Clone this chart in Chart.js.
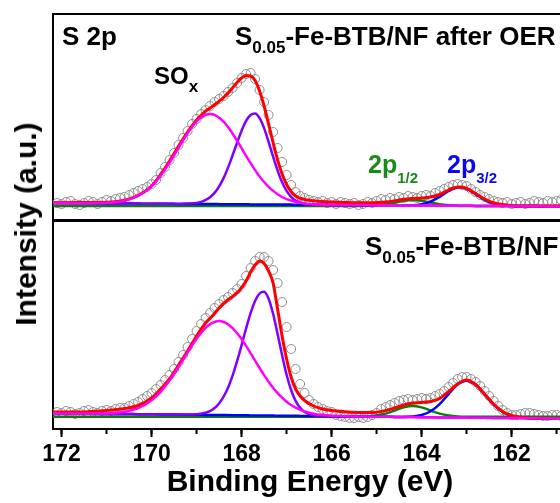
<!DOCTYPE html>
<html><head><meta charset="utf-8">
<script src="https://cdn.jsdelivr.net/npm/chart.js@4.4.1/dist/chart.umd.min.js"></script>
<style>
html,body{margin:0;padding:0;background:#fff;overflow:hidden;width:560px;height:503px;}
#wrap{position:relative;width:560px;height:503px;overflow:hidden;background:#fff;}
canvas{position:absolute;left:0;top:0;}
.t{position:absolute;font-family:'Liberation Sans',Arial,sans-serif;font-weight:bold;line-height:1;white-space:nowrap;color:#000;}
.s{position:relative;}
</style></head>
<body><div id="wrap">
<canvas id="cTop" width="580" height="503"></canvas>
<canvas id="cBot" width="580" height="503"></canvas>
<div class="t" style="left:62px;top:23px;font-size:26px">S 2p</div>
<div class="t" style="left:235px;top:23px;font-size:26px">S<span class="s" style="font-size:17px;top:8px">0.05</span>-Fe-BTB/NF after OER</div>
<div class="t" style="left:154px;top:64px;font-size:24px">SO<span class="s" style="font-size:17px;top:8px">x</span></div>
<div class="t" style="left:368px;top:152px;font-size:25px;color:#1a8a1a">2p<span class="s" style="font-size:15px;top:10px">1/2</span></div>
<div class="t" style="left:447px;top:152px;font-size:25px;color:#0a0aee">2p<span class="s" style="font-size:15px;top:10px">3/2</span></div>
<div class="t" style="left:365px;top:233px;font-size:26px">S<span class="s" style="font-size:17px;top:8px">0.05</span>-Fe-BTB/NF</div>
<div class="t" style="left:26px;top:224px;font-size:30px;transform:translate(-50%,-50%) rotate(-90deg);">Intensity (a.u.)</div>
</div>
<script>
// ---- experimental points (binding energy, eV) ----
const dataEnergy = [
172.1,172.0,171.9,171.8,171.7,171.6,171.5,171.4,171.3,171.2,
171.1,171.0,170.9,170.8,170.7,170.6,170.5,170.4,170.3,170.2,
170.1,170.0,169.9,169.8,169.7,169.6,169.5,169.4,169.3,169.2,
169.1,169.0,168.9,168.8,168.7,168.6,168.5,168.4,168.3,168.2,
168.1,168.0,167.9,167.8,167.7,167.6,167.5,167.4,167.3,167.2,
167.1,167.0,166.9,166.8,166.7,166.6,166.5,166.4,166.3,166.2,
166.1,166.0,165.9,165.8,165.7,165.6,165.5,165.4,165.3,165.2,
165.1,165.0,164.9,164.8,164.7,164.6,164.5,164.4,164.3,164.2,
164.1,164.0,163.9,163.8,163.7,163.6,163.5,163.4,163.3,163.2,
163.1,163.0,162.9,162.8,162.7,162.6,162.5,162.4,162.3,162.2,
162.1,162.0,161.9,161.8,161.7,161.6,161.5,161.4,161.3,161.2,
161.1,161.0,160.9,160.8];
const topData = [
17,16,18,19,16,15,17,19,18,16,
18,20,19,21,22,23,25,27,29,31,
33,36,40,47,53,60,67,75,82,89,
96,101,106,110,114,118,121,124,128,132,
137,142,146,147,141,130,118,105,88,72,
58,45,35,28,24,22,20,19,18,19,
17,18,16,18,17,16,17,15,16,18,
17,19,21,20,22,21,23,22,24,23,
22,24,25,24,27,29,31,33,35,36,
35,34,31,28,25,23,21,19,18,17,
18,16,17,18,16,17,19,18,17,19,
18,19,20,19];
const bottomData = [
17,16,18,17,15,16,18,19,17,16,
18,19,18,20,21,21,23,25,27,30,
33,36,40,44,49,54,60,67,74,82,
90,98,105,111,116,121,125,129,132,136,
140,145,153,161,168,172,172,168,159,146,
127,102,80,60,45,36,29,25,22,20,
18,17,14,13,12,11,11,12,11,12,
14,16,20,22,24,26,28,29,30,29,
30,31,30,31,33,35,38,42,46,50,
52,52,50,47,43,38,33,28,23,19,
16,14,14,15,16,16,15,14,13,13,
14,14,13,13];

// ---- fitted curves, top panel (after OER) ----
const topFitEnergy = [
172.19,171.6,171.0,170.6,170.3,170.0,169.8,169.6,169.4,169.2,
169.0,168.85,168.7,168.55,168.4,168.25,168.1,168.0,167.9,167.8,
167.7,167.6,167.5,167.4,167.3,167.2,167.1,167.0,166.9,166.8,
166.6,166.4,166.2,166.0,165.7,165.4,165.1,164.8,164.6,164.4,
164.2,164.0,163.8,163.6,163.4,163.3,163.15,163.0,162.8,162.6,
162.4,162.2,162.0,161.6,161.2,160.77];
const topEnvelope = [
17.3,17.4,17.8,19.8,24.5,34.0,45.5,59.0,74.0,88.0,
100.0,107.0,112.0,117.0,122.5,129.5,137.5,142.0,144.5,144.0,
139.5,129.0,114.0,96.0,77.5,60.0,46.0,35.5,28.5,24.0,
20.5,19.3,18.5,18.0,17.5,17.2,17.2,18.0,19.2,20.7,
21.5,22.0,23.0,25.5,30.0,32.0,33.0,31.7,26.5,21.0,
17.2,15.4,14.6,14.3,14.1,14.0];
const topSOx1 = [
17.0,16.8,17.2,19.3,24.0,33.9,44.3,57.4,72.2,86.8,
98.5,104.1,105.9,103.9,98.3,89.8,79.3,71.8,64.2,56.8,
49.9,43.6,38.0,33.1,29.1,25.8,23.0,20.9,19.4,18.1,
16.6,15.8,15.4,15.1,15.0,14.9,14.8,14.7,14.7,14.6,
14.5,14.5,14.4,14.4,14.3,14.3,14.2,14.2,14.1,14.1,
14.0,13.9,13.9,13.7,13.6,13.5];
const topSOx2 = [
17.0,16.8,16.6,16.5,16.4,16.3,16.3,16.2,16.1,16.4,
17.1,18.9,22.7,30.0,41.9,58.4,77.3,89.3,99.1,105.0,
106.6,101.9,91.9,78.1,63.3,49.4,37.7,29.1,23.2,19.4,
16.2,15.4,15.2,15.1,15.0,14.9,14.8,14.7,14.7,14.6,
14.5,14.5,14.4,14.4,14.3,14.3,14.2,14.2,14.1,14.1,
14.0,13.9,13.9,13.7,13.6,13.5];
const top2p12 = [
14,14,14,14,14,14,14,14,14,14,
14,14,14,14,14,14,14,14,14,14,
14,14,14,14,14,14,14,14,14,14,
14,14,14,14,14,14.0,14.4,15.7,17.4,19.2,
20.0,19.2,17.4,15.7,14.7,14.4,14.1,14.0,14,14,
14,14,14,14,14,14];
const top2p32 = [
17.0,16.8,16.6,16.5,16.4,16.3,16.3,16.2,16.1,16.1,
16.0,16.0,15.9,15.9,15.8,15.8,15.7,15.7,15.7,15.6,
15.6,15.6,15.6,15.5,15.5,15.5,15.4,15.4,15.4,15.3,
15.3,15.2,15.2,15.1,15.0,14.9,14.8,14.7,14.7,14.7,
14.8,15.8,18.4,23.2,29.0,31.3,32.7,31.2,25.9,20.2,
16.4,14.6,14.0,13.7,13.6,13.5];

// ---- fitted curves, bottom panel ----
const bottomFitEnergy = [
172.19,171.6,171.0,170.6,170.3,170.0,169.8,169.6,169.4,169.2,
169.0,168.8,168.65,168.5,168.35,168.2,168.05,167.9,167.8,167.7,
167.6,167.5,167.4,167.3,167.2,167.1,167.0,166.9,166.8,166.7,
166.6,166.4,166.2,166.0,165.7,165.4,165.1,164.8,164.6,164.4,
164.2,164.0,163.8,163.6,163.4,163.2,163.0,162.8,162.6,162.4,
162.2,162.0,161.6,161.2,160.77];
const bottomEnvelope = [
17.0,17.0,18.5,20.5,23.5,31.0,40.0,50.0,64.0,78.0,
93.0,106.0,113.0,121.0,127.5,132.5,138.5,148.0,157.0,164.0,
168.0,165.5,158.0,146.0,120.0,93.0,70.0,52.0,40.0,33.0,
28.5,23.0,20.0,18.5,17.3,16.6,16.4,18.5,21.0,24.0,
26.0,26.5,27.5,30.5,37.5,45.0,49.0,44.5,35.0,25.0,
17.5,13.5,11.0,10.6,10.3];
const bottomSOx1 = [
15.7,15.4,15.6,17.3,20.9,28.8,37.2,48.4,61.9,76.5,
90.3,101.2,106.2,108.0,106.1,100.9,92.9,83.1,75.8,68.4,
61.0,53.9,47.3,41.3,35.9,31.3,27.3,24.0,21.4,19.2,
17.6,15.3,14.0,13.3,12.7,12.5,12.3,12.2,12.1,12.0,
11.9,11.8,11.7,11.6,11.5,11.5,11.4,11.3,11.2,11.1,
11.0,10.9,10.7,10.5,10.3];
const bottomSOx2 = [
15.7,15.4,15.1,15.0,14.8,14.7,14.6,14.5,14.4,14.4,
14.8,16.3,19.3,25.6,36.5,53.4,75.7,100.5,115.8,128.1,
135.5,137.3,130.3,115.2,94.9,73.7,54.3,39.0,28.1,21.1,
17.0,13.7,13.0,12.8,12.6,12.5,12.3,12.2,12.1,12.0,
11.9,11.8,11.7,11.6,11.5,11.5,11.4,11.3,11.2,11.1,
11.0,10.9,10.7,10.5,10.3];
const bottom2p12 = [
12.3,12.3,12.3,12.3,12.3,12.3,12.3,12.3,12.3,12.3,
12.3,12.3,12.3,12.3,12.3,12.3,12.3,12.3,12.3,12.3,
12.3,12.3,12.3,12.3,12.3,12.3,12.3,12.3,12.3,12.3,
12.3,12.3,12.3,12.3,12.3,12.4,13.0,15.4,18.5,21.6,
23.0,21.6,18.5,15.4,13.5,12.6,12.3,12.3,12.3,12.3,
12.3,12.3,12.3,12.3,12.3];
const bottom2p32 = [
15.7,15.4,15.1,15.0,14.8,14.7,14.6,14.5,14.4,14.3,
14.2,14.1,14.0,14.0,13.9,13.8,13.7,13.7,13.6,13.6,
13.5,13.5,13.4,13.4,13.3,13.3,13.2,13.2,13.2,13.1,
13.1,13.0,12.9,12.8,12.6,12.5,12.3,12.2,12.1,12.1,
12.5,14.0,17.7,24.9,34.9,44.4,48.3,44.2,34.6,24.4,
17.0,13.1,10.8,10.5,10.3];

// ---- axis ----
const energyMin = 160.77, energyMax = 172.19;
const majorTicks = [172,170,168,166,164,162];

const FONT = "'Liberation Sans', Arial, sans-serif";
Chart.defaults.font.family = FONT;
Chart.defaults.color = '#000';

const pts = (xs, ys) => xs.map((x, i) => ({x: x, y: ys[i]}));
const line = (xs, ys, color, w) => ({
  data: pts(xs, ys), showLine: true, borderColor: color, backgroundColor: color,
  borderWidth: w, pointRadius: 0, pointHoverRadius: 0,
  cubicInterpolationMode: 'monotone', fill: false
});
const dots = (xs, ys) => ({
  data: pts(xs, ys), showLine: false, pointRadius: 4.5, pointHoverRadius: 4.5,
  pointBorderWidth: 1, pointBorderColor: '#8e8e8e', pointBackgroundColor: 'rgba(255,255,255,0)'
});
const BORDER = {display: true, color: '#000', width: 2};
const frameX = (pos, h) => ({
  type: 'linear', position: pos, min: energyMin, max: energyMax, reverse: true,
  ticks: {display: false, includeBounds: false}, grid: {display: false}, border: BORDER,
  afterFit: s => { s.height = h; }
});
const frameY = (pos, w, maxV) => ({
  type: 'linear', position: pos, min: 0, max: maxV,
  ticks: {display: false}, grid: {display: false}, border: BORDER,
  afterFit: s => { s.width = w; }
});
const base = {
  responsive: false, animation: false, events: [],
  layout: {padding: 0},
  plugins: {legend: {display: false}, tooltip: {enabled: false}}
};

new Chart(document.getElementById('cTop'), {
  type: 'scatter',
  data: {datasets: [
    line(topFitEnergy, topSOx1, '#ff00ff', 2.5),
    line(topFitEnergy, topEnvelope, '#ff0000', 3),
    line(topFitEnergy, topSOx2, '#8000ff', 2.5),
    line(topFitEnergy, top2p32, '#0000ff', 2.5),
    line(topFitEnergy, top2p12, '#0a7d0a', 2.5),
    dots(dataEnergy, topData)
  ]},
  options: Object.assign({}, base, {
    scales: {
      x: frameX('bottom', 283),
      xt: frameX('top', 14),
      y: frameY('left', 53, 206),
      yr: frameY('right', 13, 206)
    }
  })
});

new Chart(document.getElementById('cBot'), {
  type: 'scatter',
  data: {datasets: [
    line(bottomFitEnergy, bottomSOx1, '#ff00ff', 2.5),
    line(bottomFitEnergy, bottomEnvelope, '#ff0000', 3),
    line(bottomFitEnergy, bottomSOx2, '#8000ff', 2.5),
    line(bottomFitEnergy, bottom2p32, '#0000ff', 2.5),
    line(bottomFitEnergy, bottom2p12, '#0a7d0a', 2.5),
    dots(dataEnergy, bottomData)
  ]},
  options: Object.assign({}, base, {
    scales: {
      x: {
        type: 'linear', position: 'bottom', weight: 1,
        min: energyMin, max: energyMax, reverse: true,
        afterBuildTicks: s => { s.ticks = majorTicks.map(v => ({value: v})); },
        ticks: {includeBounds: false, autoSkip: false, maxRotation: 0, padding: 4,
                font: {size: 23, weight: 'bold', family: FONT}, color: '#000'},
        grid: {display: true, drawOnChartArea: false, drawTicks: true, tickLength: 8,
               tickWidth: 2, tickColor: '#000', color: '#000'},
        border: BORDER,
        title: {display: true, text: 'Binding Energy (eV)', color: '#000',
                font: {size: 30, weight: 'bold', family: FONT, lineHeight: 1.2},
                padding: {top: 0, bottom: 2}},
        afterFit: s => { s.height = 74; }
      },
      xm: {
        type: 'linear', position: 'bottom', weight: 0,
        min: energyMin, max: energyMax, reverse: true,
        ticks: {display: false, stepSize: 1, includeBounds: false, autoSkip: false},
        grid: {display: true, drawOnChartArea: false, drawTicks: true, tickLength: 5,
               tickWidth: 2, tickColor: '#000', color: '#000'},
        border: {display: false},
        afterFit: s => { s.height = 0; }
      },
      xt: frameX('top', 221),
      y: frameY('left', 53, 208),
      yr: frameY('right', 13, 208)
    }
  })
});
</script></body></html>
